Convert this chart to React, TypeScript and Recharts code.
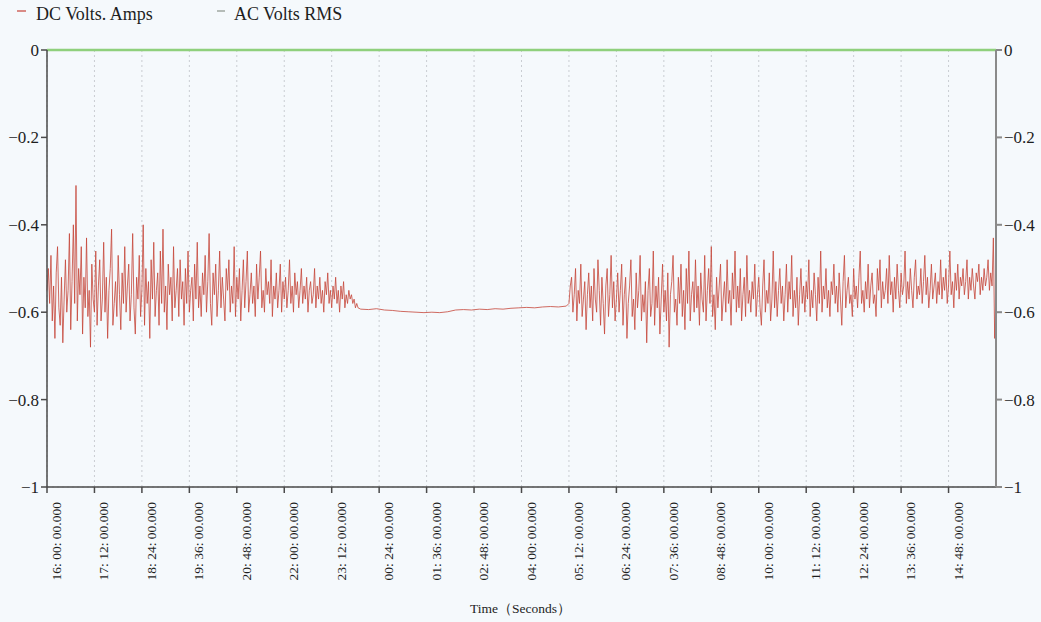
import { CartesianGrid, Line, LineChart, XAxis, YAxis } from 'recharts'

const BG = '#f5f9fc'
const DC_COLOR = '#c6463a'
const AC_COLOR = '#8fd07c'
const GRID = '#c9cdd2'
const AXIS = '#4a4a4a'
const FONT = '"Liberation Serif", "Times New Roman", serif'

// minutes after 16:00, one tick every 72 min
const TICK_LABELS = [
  '16: 00: 00.000', '17: 12: 00.000', '18: 24: 00.000', '19: 36: 00.000',
  '20: 48: 00.000', '22: 00: 00.000', '23: 12: 00.000', '00: 24: 00.000',
  '01: 36: 00.000', '02: 48: 00.000', '04: 00: 00.000', '05: 12: 00.000',
  '06: 24: 00.000', '07: 36: 00.000', '08: 48: 00.000', '10: 00: 00.000',
  '11: 12: 00.000', '12: 24: 00.000', '13: 36: 00.000', '14: 48: 00.000',
]
const TICK_STEP = 72
const Y_TICKS = [0, -0.2, -0.4, -0.6, -0.8, -1]

// DC Volts. Amps — evening block, every 2 min from 16:00
const DC_EVENING_START = 0
const DC_EVENING_STEP = 2
const DC_EVENING = [
  -0.55, -0.5, -0.58, -0.47, -0.62, -0.54, -0.66, -0.51, -0.45, -0.59, -0.63, -0.52, -0.67, -0.57, -0.48, -0.6, -0.55, -0.42, -0.64, -0.53,
  -0.4, -0.58, -0.31, -0.62, -0.5, -0.56, -0.45, -0.65, -0.52, -0.59, -0.43, -0.61, -0.55, -0.68, -0.49, -0.57, -0.6, -0.46, -0.63, -0.54,
  -0.48, -0.62, -0.57, -0.44, -0.6, -0.52, -0.66, -0.55, -0.5, -0.41, -0.63, -0.58, -0.53, -0.61, -0.47, -0.56, -0.64, -0.51, -0.58, -0.45,
  -0.6, -0.54, -0.49, -0.62, -0.56, -0.42, -0.59, -0.65, -0.52, -0.57, -0.47, -0.61, -0.55, -0.4, -0.63, -0.5, -0.58, -0.53, -0.66, -0.48,
  -0.57, -0.44, -0.61, -0.55, -0.51, -0.63, -0.46, -0.58, -0.41, -0.6, -0.54, -0.64, -0.49, -0.56, -0.52, -0.62, -0.45, -0.59, -0.55, -0.5,
  -0.61, -0.48, -0.57, -0.53, -0.63, -0.5, -0.58, -0.46, -0.6, -0.55, -0.52, -0.62, -0.49, -0.57, -0.44, -0.59, -0.54, -0.61, -0.51, -0.56,
  -0.47, -0.6, -0.53, -0.42, -0.58, -0.63, -0.51, -0.56, -0.49, -0.61, -0.55, -0.46, -0.59, -0.52, -0.57, -0.62, -0.5, -0.55, -0.48, -0.6,
  -0.54, -0.58, -0.45, -0.61, -0.52, -0.57, -0.5, -0.62, -0.55, -0.48, -0.59, -0.53, -0.46, -0.6, -0.56, -0.51, -0.58, -0.54, -0.61, -0.49,
  -0.57, -0.52, -0.46, -0.59, -0.55, -0.6, -0.5, -0.56, -0.53, -0.58, -0.48, -0.61, -0.54, -0.57, -0.51, -0.59, -0.55, -0.49, -0.6, -0.53,
  -0.57, -0.52, -0.59, -0.55, -0.48, -0.58, -0.54, -0.6, -0.51, -0.56, -0.53, -0.59, -0.55, -0.5, -0.58, -0.54, -0.57, -0.52, -0.6, -0.55,
  -0.53, -0.58, -0.56, -0.5, -0.59, -0.54, -0.57, -0.52, -0.58, -0.55, -0.6, -0.53, -0.56, -0.51, -0.58, -0.55, -0.59, -0.54, -0.57, -0.52,
  -0.58, -0.55, -0.6, -0.54, -0.57, -0.53, -0.59, -0.56, -0.58, -0.55, -0.57, -0.56, -0.58, -0.57, -0.59, -0.58, -0.59,
]

// quiet night block, every 12 min from 23:56
const DC_NIGHT_START = 476
const DC_NIGHT_STEP = 12
const DC_NIGHT = [
  -0.593, -0.594, -0.592, -0.595, -0.596, -0.598, -0.599, -0.6, -0.601, -0.6, -0.601,
  -0.599, -0.595, -0.594, -0.595, -0.593, -0.594, -0.592, -0.593, -0.591, -0.59, -0.589,
  -0.59, -0.588, -0.587, -0.588, -0.586,
]

// day block, every 2 min from 05:12
const DC_DAY_START = 792
const DC_DAY_STEP = 2
const DC_DAY = [
  -0.58, -0.54, -0.52, -0.6, -0.56, -0.5, -0.62, -0.55, -0.58, -0.49, -0.61, -0.57, -0.53, -0.64, -0.56, -0.51, -0.59, -0.54, -0.62, -0.5,
  -0.57, -0.6, -0.48, -0.55, -0.63, -0.52, -0.58, -0.65, -0.54, -0.5, -0.61, -0.56, -0.47, -0.59, -0.53, -0.62, -0.57, -0.51, -0.6, -0.55,
  -0.49, -0.63, -0.56, -0.52, -0.66, -0.58, -0.54, -0.48, -0.61, -0.57, -0.64, -0.51, -0.59, -0.55, -0.47, -0.62, -0.56, -0.6, -0.53, -0.67,
  -0.55, -0.5, -0.61, -0.58, -0.46, -0.63, -0.54, -0.59, -0.52, -0.65, -0.57, -0.49, -0.6, -0.55, -0.62, -0.51, -0.68, -0.56, -0.53, -0.47,
  -0.6, -0.57, -0.63, -0.52, -0.58, -0.49, -0.61, -0.55, -0.64, -0.5, -0.58, -0.46, -0.62, -0.56, -0.53, -0.6, -0.48, -0.59, -0.54, -0.63,
  -0.51, -0.57, -0.6, -0.47, -0.62, -0.55, -0.5, -0.58, -0.45, -0.61, -0.56, -0.64, -0.52, -0.59, -0.54, -0.49, -0.62, -0.57, -0.53, -0.6,
  -0.48, -0.58, -0.55, -0.63, -0.51, -0.57, -0.46, -0.6, -0.54, -0.59, -0.5, -0.62, -0.56, -0.52, -0.61, -0.47, -0.58, -0.55, -0.6, -0.53,
  -0.57, -0.49, -0.61, -0.56, -0.52, -0.59, -0.63, -0.54, -0.48, -0.6, -0.55, -0.58, -0.51, -0.62, -0.57, -0.46, -0.59, -0.53, -0.61, -0.55,
  -0.5, -0.58, -0.54, -0.62, -0.56, -0.49, -0.6, -0.53, -0.57, -0.47, -0.61, -0.55, -0.59, -0.52, -0.63, -0.56, -0.5, -0.58, -0.54, -0.6,
  -0.53, -0.57, -0.48, -0.61, -0.55, -0.59, -0.51, -0.56, -0.62, -0.52, -0.58, -0.46, -0.6, -0.54, -0.57, -0.5, -0.59, -0.55, -0.61, -0.53,
  -0.56, -0.49, -0.58, -0.54, -0.6, -0.51, -0.57, -0.63, -0.53, -0.47, -0.59, -0.55, -0.52, -0.58, -0.56, -0.61, -0.5, -0.57, -0.54, -0.59,
  -0.52, -0.46, -0.58, -0.55, -0.6, -0.53, -0.57, -0.49, -0.59, -0.54, -0.51, -0.58, -0.56, -0.61, -0.5, -0.55, -0.48, -0.59, -0.53, -0.57,
  -0.55, -0.5, -0.58, -0.47, -0.56, -0.53, -0.6, -0.52, -0.57, -0.49, -0.55, -0.59, -0.51, -0.56, -0.54, -0.46, -0.58, -0.53, -0.57, -0.5,
  -0.55, -0.59, -0.52, -0.48, -0.57, -0.54, -0.56, -0.5, -0.58, -0.53, -0.47, -0.56, -0.52, -0.59, -0.55, -0.49, -0.57, -0.54, -0.51, -0.58,
  -0.53, -0.56, -0.48, -0.57, -0.52, -0.55, -0.5, -0.58, -0.54, -0.46, -0.56, -0.53, -0.59, -0.51, -0.55, -0.49, -0.57, -0.52, -0.54, -0.5,
  -0.56, -0.53, -0.48, -0.57, -0.52, -0.55, -0.5, -0.54, -0.57, -0.51, -0.53, -0.49, -0.56, -0.52, -0.55, -0.5, -0.54, -0.52, -0.48, -0.55,
  -0.51, -0.54, -0.43, -0.66, -0.55,
]

// AC Volts RMS sits flat on zero
const AC_TIMES = [0, 1440]
const AC_VALUES = [0, 0]

const toRows = (start: number, step: number, values: number[]) =>
  values.map((v, i) => ({ t: start + i * step, dc: v }))

const dcData = [
  ...toRows(DC_EVENING_START, DC_EVENING_STEP, DC_EVENING),
  ...toRows(DC_NIGHT_START, DC_NIGHT_STEP, DC_NIGHT),
  ...toRows(DC_DAY_START, DC_DAY_STEP, DC_DAY),
]
const acData = AC_TIMES.map((t, i) => ({ t, ac: AC_VALUES[i] }))
const xTicks = TICK_LABELS.map((_, i) => i * TICK_STEP)

const fmtY = (v: number) => (v === 0 ? '0' : String(v).replace('-', '\u2212'))

interface TickProps {
  x?: number
  y?: number
  index?: number
}

function TimeTick({ x = 0, y = 0, index = 0 }: TickProps) {
  return (
    <g transform={`translate(${x + 14},${y + 7})`}>
      <text transform="rotate(-90)" textAnchor="end" fontSize={13.5} fontFamily={FONT} fill="#1e1e1e">
        {TICK_LABELS[index]}
      </text>
    </g>
  )
}

const yTick = { fill: '#1e1e1e', fontSize: 17, fontFamily: FONT }

export default function App() {
  return (
    <div
      style={{
        position: 'absolute',
        left: 0,
        top: 0,
        width: 1041,
        height: 622,
        background: BG,
        fontFamily: FONT,
      }}
    >
      <div style={{ position: 'absolute', left: 17, top: 4, fontSize: 18, color: '#1e1e1e', display: 'flex' }}>
        <span style={{ display: 'flex', alignItems: 'center' }}>
          <span style={{ width: 9, height: 2, background: '#d98b86', marginRight: 10, marginTop: -7 }} />
          DC Volts. Amps
        </span>
        <span style={{ display: 'flex', alignItems: 'center', marginLeft: 64 }}>
          <span style={{ width: 8, height: 2, background: '#b5bcb8', marginRight: 9, marginTop: -7 }} />
          AC Volts RMS
        </span>
      </div>

      <LineChart width={1041} height={622} margin={{ top: 50, right: 0, bottom: 0, left: 0 }}>
        <CartesianGrid stroke={GRID} strokeDasharray="2 3" />
        <XAxis
          dataKey="t"
          type="number"
          domain={[0, 1440]}
          ticks={xTicks}
          interval={0}
          height={135}
          tick={<TimeTick />}
          stroke={AXIS}
          strokeWidth={1.5}
          allowDuplicatedCategory={false}
        />
        <YAxis
          yAxisId="left"
          domain={[-1, 0]}
          ticks={Y_TICKS}
          width={47}
          tickFormatter={fmtY}
          tick={yTick}
          stroke={AXIS}
          strokeWidth={1.5}
        />
        <YAxis
          yAxisId="right"
          orientation="right"
          domain={[-1, 0]}
          ticks={Y_TICKS}
          width={45}
          tickFormatter={fmtY}
          tick={yTick}
          stroke="#8a8a8a"
          strokeWidth={2}
        />
        <Line
          yAxisId="left"
          data={dcData}
          dataKey="dc"
          type="linear"
          stroke={DC_COLOR}
          strokeOpacity={0.8}
          strokeWidth={1}
          dot={false}
          isAnimationActive={false}
        />
        <Line
          yAxisId="right"
          data={acData}
          dataKey="ac"
          type="linear"
          stroke={AC_COLOR}
          strokeWidth={2.5}
          dot={false}
          isAnimationActive={false}
        />
      </LineChart>

      <div
        style={{
          position: 'absolute',
          left: 0,
          width: 1041,
          top: 600,
          textAlign: 'center',
          fontSize: 13.5,
          color: '#1e1e1e',
        }}
      >
        Time（Seconds）
      </div>
    </div>
  )
}
